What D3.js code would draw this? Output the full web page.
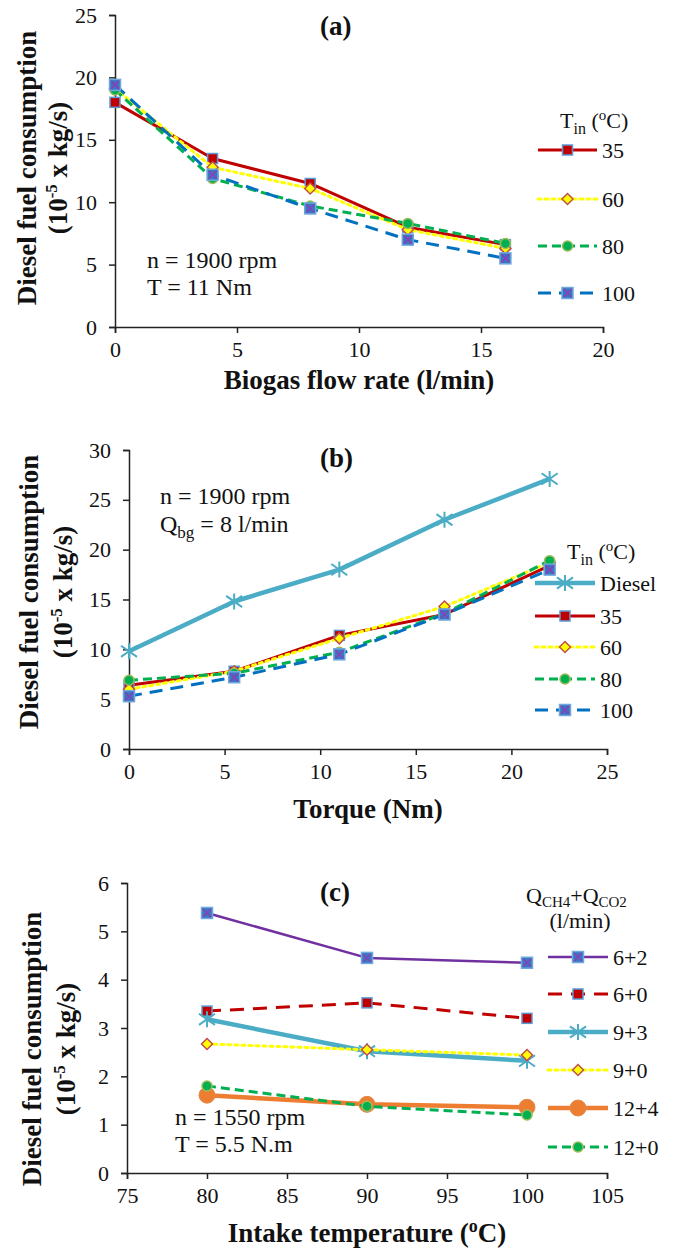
<!DOCTYPE html>
<html>
<head>
<meta charset="utf-8">
<style>
  body { margin: 0; background: #fff; }
  svg { display: block; }
  svg text { font-family: "Liberation Serif", "DejaVu Serif", serif; }
  .axis path, .axis line { stroke: #222; stroke-width: 1.5; }
  .axis text { font-size: 22px; fill: #111; font-family: "Liberation Serif", serif; }
  .title { font-size: 27px; font-weight: bold; fill: #111; }
  .note { font-size: 24px; fill: #111; }
  .leg { font-size: 22px; fill: #111; }
</style>
<script src="https://d3js.org/d3.v7.min.js"></script>
</head>
<body>
<svg id="chart" width="673" height="1250"></svg>
<script>

// ---- data ----
var flowRate = [0, 4, 8, 12, 16];
var aT35  = [18.0, 13.5, 11.5, 8.0, 6.6];
var aT60  = [19.1, 12.8, 11.1, 7.8, 6.3];
var aT80  = [19.0, 11.9, 9.7, 8.3, 6.7];
var aT100 = [19.4, 12.2, 9.5, 7.0, 5.5];

var torque = [0, 5.5, 11, 16.5, 22];
var bDiesel = [9.8, 14.8, 18.0, 23.0, 27.1];
var bT35  = [6.4, 7.8, 11.4, 13.5, 18.4];
var bT60  = [6.0, 7.8, 11.1, 14.3, 18.7];
var bT80  = [6.9, 7.6, 9.7, 13.6, 18.9];
var bT100 = [5.3, 7.2, 9.5, 13.5, 18.0];

var intakeTemp = [80, 90, 100];
var c6p2  = [5.38, 4.45, 4.35];
var c6p0  = [3.35, 3.52, 3.20];
var c9p3  = [3.18, 2.52, 2.32];
var c9p0  = [2.67, 2.55, 2.44];
var c12p4 = [1.61, 1.42, 1.36];
var c12p0 = [1.80, 1.38, 1.20];

var aXTicks = [0, 5, 10, 15, 20];
var aYTicks = [0, 5, 10, 15, 20, 25];
var bXTicks = [0, 5, 10, 15, 20, 25];
var bYTicks = [0, 5, 10, 15, 20, 25, 30];
var cXTicks = [75, 80, 85, 90, 95, 100, 105];
var cYTicks = [0, 1, 2, 3, 4, 5, 6];

var tempNames = ["35", "60", "80", "100"];
var flowNames = ["6+2", "6+0", "9+3", "9+0", "12+4", "12+0"];

// ---- line styles ----
var st = {
  red:    { color: "#c00000", width: 3, dash: null, marker: "sqRed" },
  yellow: { color: "#ffff00", width: 3, dash: "3,4", marker: "diamond" },
  green:  { color: "#00b050", width: 3, dash: "9,5", marker: "circGreen" },
  blue:   { color: "#0070c0", width: 3, dash: "13,8", marker: "sqBlueX" },
  teal:   { color: "#4bacc6", width: 4.5, dash: null, marker: "star" },
  purple: { color: "#7030a0", width: 2.5, dash: null, marker: "sqBlueX" },
  dred:   { color: "#c00000", width: 3, dash: "14,9", marker: "sqRed" },
  orange: { color: "#ed7d31", width: 4.5, dash: null, marker: "bigCirc" },
  green2: { color: "#00b050", width: 3, dash: "9,5", marker: "circGreen" }
};

var svg = d3.select("#chart");
svg.append("rect").attr("width", 673).attr("height", 1250).attr("fill", "#fff");

function drawMarker(g, type, x, y) {
  if (type === "sqRed") {
    g.append("rect").attr("x", x - 5).attr("y", y - 5).attr("width", 10).attr("height", 10)
      .attr("fill", "#c00000").attr("stroke", "#5b9bd5").attr("stroke-width", 1.5);
  } else if (type === "sqBlueX") {
    g.append("rect").attr("x", x - 5.5).attr("y", y - 5.5).attr("width", 11).attr("height", 11)
      .attr("fill", "#3a76c4").attr("stroke", "#6fa8dc").attr("stroke-width", 1.5);
    g.append("path").attr("d", "M" + (x - 4) + "," + (y - 4) + "L" + (x + 4) + "," + (y + 4) +
      "M" + (x - 4) + "," + (y + 4) + "L" + (x + 4) + "," + (y - 4))
      .attr("stroke", "#8a3fb5").attr("stroke-width", 1.5);
  } else if (type === "diamond") {
    g.append("path").attr("d", "M" + x + "," + (y - 5.5) + "L" + (x + 5.5) + "," + y + "L" + x + "," + (y + 5.5) + "L" + (x - 5.5) + "," + y + "Z")
      .attr("fill", "#ffff00").attr("stroke", "#c0504d").attr("stroke-width", 1.5);
  } else if (type === "circGreen") {
    g.append("circle").attr("cx", x).attr("cy", y).attr("r", 5)
      .attr("fill", "#00b050").attr("stroke", "#9bbb59").attr("stroke-width", 1.5);
  } else if (type === "star") {
    var r = 8;
    g.append("path").attr("d", "M" + (x - r) + "," + (y - r * 0.7) + "L" + (x + r) + "," + (y + r * 0.7) +
      "M" + (x - r) + "," + (y + r * 0.7) + "L" + (x + r) + "," + (y - r * 0.7) +
      "M" + x + "," + (y - r) + "L" + x + "," + (y + r))
      .attr("stroke", "#4bacc6").attr("stroke-width", 2).attr("fill", "none");
  } else if (type === "bigCirc") {
    g.append("circle").attr("cx", x).attr("cy", y).attr("r", 8)
      .attr("fill", "#ed7d31").attr("stroke", "#e08a4a").attr("stroke-width", 1);
  }
}

function drawPanel(p) {
  var x = d3.scaleLinear().domain(p.xDomain).range(p.xRange);
  var y = d3.scaleLinear().domain(p.yDomain).range(p.yRange);

  svg.append("g").attr("class", "axis")
    .attr("transform", "translate(0," + p.yRange[0] + ")")
    .call(d3.axisBottom(x).tickValues(p.xTicks).tickFormat(d3.format("d"))
      .tickSize(6).tickSizeOuter(6).tickPadding(8));
  svg.append("g").attr("class", "axis")
    .attr("transform", "translate(" + p.xRange[0] + ",0)")
    .call(d3.axisLeft(y).tickValues(p.yTicks).tickFormat(d3.format("d"))
      .tickSize(6).tickSizeOuter(6).tickPadding(12));

  var line = d3.line().x(function(d) { return x(d[0]); }).y(function(d) { return y(d[1]); });

  p.series.forEach(function(s) {
    var pts = p.xs.map(function(v, i) { return [v, s.values[i]]; });
    svg.append("path").datum(pts).attr("d", line)
      .attr("fill", "none").attr("stroke", s.style.color).attr("stroke-width", s.style.width)
      .attr("stroke-dasharray", s.style.dash).attr("stroke-linejoin", "round")
      .attr("stroke-linecap", s.style.dash === "3,4" ? "round" : "butt");
    var mg = svg.append("g");
    pts.forEach(function(d) { drawMarker(mg, s.style.marker, x(d[0]), y(d[1])); });
  });

  // legend
  p.series.forEach(function(s, i) {
    var ly = p.legY[i];
    svg.append("line").attr("x1", p.legX[0]).attr("x2", p.legX[1]).attr("y1", ly).attr("y2", ly)
      .attr("stroke", s.style.color).attr("stroke-width", s.style.width)
      .attr("stroke-dasharray", s.style.dash)
      .attr("stroke-linecap", s.style.dash === "3,4" ? "round" : "butt");
    drawMarker(svg.append("g"), s.style.marker, (p.legX[0] + p.legX[1]) / 2, ly);
    svg.append("text").attr("class", "leg").attr("x", p.legX[1] + 5).attr("y", ly).attr("dy", "0.35em").text(s.name);
  });

  // panel title
  svg.append("text").attr("class", "title").attr("x", 320).attr("y", p.tagY).text(p.tag);

  // x-axis title
  var xt = svg.append("text").attr("class", "title").attr("text-anchor", "middle")
    .attr("x", (p.xRange[0] + p.xRange[1]) / 2).attr("y", p.xTitleY);
  p.xTitle(xt);

  // y-axis title (two lines)
  var cy = p.yLabelY;
  svg.append("text").attr("class", "title").attr("text-anchor", "middle")
    .attr("transform", "translate(" + p.yLabelX[0] + "," + cy + ") rotate(-90)")
    .text("Diesel fuel consumption");
  var t2 = svg.append("text").attr("class", "title").attr("text-anchor", "middle")
    .attr("transform", "translate(" + p.yLabelX[1] + "," + cy + ") rotate(-90)");
  t2.append("tspan").text("(10");
  t2.append("tspan").attr("dy", -10).attr("font-size", "17px").text("-5");
  t2.append("tspan").attr("dy", 10).text(" x kg/s)");

  // notes
  p.notes.forEach(function(n, i) {
    var t = svg.append("text").attr("class", "note").attr("x", p.noteX).attr("y", p.noteY[i]);
    n(t);
  });
}

function tinTitle(x0, y0) {
  var t = svg.append("text").attr("class", "leg").attr("x", x0).attr("y", y0);
  t.append("tspan").text("T");
  t.append("tspan").attr("dy", 6).attr("font-size", "16px").text("in");
  t.append("tspan").attr("dy", -6).text(" (");
  t.append("tspan").attr("dy", -8).attr("font-size", "15px").text("o");
  t.append("tspan").attr("dy", 8).text("C)");
}

// ---- panel (a) ----
drawPanel({
  xDomain: [0, 20], xRange: [115, 603], yDomain: [0, 25], yRange: [327, 15],
  xTicks: aXTicks, yTicks: aYTicks, xs: flowRate,
  series: [
    { name: tempNames[0], values: aT35, style: st.red },
    { name: tempNames[1], values: aT60, style: st.yellow },
    { name: tempNames[2], values: aT80, style: st.green },
    { name: tempNames[3], values: aT100, style: st.blue }
  ],
  legX: [538, 597], legY: [150, 199, 246, 293],
  tag: "(a)", tagY: 35,
  xTitleY: 389, xTitle: function(t) { t.text("Biogas flow rate (l/min)"); },
  yLabelX: [36, 67], yLabelY: 168,
  noteX: 147, noteY: [268, 295],
  notes: [
    function(t) { t.text("n = 1900 rpm"); },
    function(t) { t.text("T = 11 Nm"); }
  ]
});
tinTitle(560, 128);

// ---- panel (b) ----
drawPanel({
  xDomain: [0, 25], xRange: [129, 607], yDomain: [0, 30], yRange: [749, 450],
  xTicks: bXTicks, yTicks: bYTicks, xs: torque,
  series: [
    { name: "Diesel", values: bDiesel, style: st.teal },
    { name: tempNames[0], values: bT35, style: st.red },
    { name: tempNames[1], values: bT60, style: st.yellow },
    { name: tempNames[2], values: bT80, style: st.green },
    { name: tempNames[3], values: bT100, style: st.blue }
  ],
  legX: [535, 595], legY: [583, 616, 647, 679, 710],
  tag: "(b)", tagY: 467,
  xTitleY: 818, xTitle: function(t) { t.text("Torque (Nm)"); },
  yLabelX: [38, 72], yLabelY: 592,
  noteX: 160, noteY: [504, 532],
  notes: [
    function(t) { t.text("n = 1900 rpm"); },
    function(t) {
      t.append("tspan").text("Q");
      t.append("tspan").attr("dy", 6).attr("font-size", "17px").text("bg");
      t.append("tspan").attr("dy", -6).text(" = 8 l/min");
    }
  ]
});
tinTitle(567, 559);

// ---- panel (c) ----
drawPanel({
  xDomain: [75, 105], xRange: [127, 607], yDomain: [0, 6], yRange: [1173, 883],
  xTicks: cXTicks, yTicks: cYTicks, xs: intakeTemp,
  series: [
    { name: flowNames[0], values: c6p2, style: st.purple },
    { name: flowNames[1], values: c6p0, style: st.dred },
    { name: flowNames[2], values: c9p3, style: st.teal },
    { name: flowNames[3], values: c9p0, style: st.yellow },
    { name: flowNames[4], values: c12p4, style: st.orange },
    { name: flowNames[5], values: c12p0, style: st.green2 }
  ],
  legX: [548, 608], legY: [957, 994, 1032, 1070, 1108, 1147],
  tag: "(c)", tagY: 901,
  xTitleY: 1242, xTitle: function(t) {
    t.append("tspan").text("Intake temperature (");
    t.append("tspan").attr("dy", -10).attr("font-size", "18px").text("o");
    t.append("tspan").attr("dy", 10).text("C)");
  },
  yLabelX: [41, 75], yLabelY: 1049,
  noteX: 175, noteY: [1125, 1152],
  notes: [
    function(t) { t.text("n = 1550 rpm"); },
    function(t) { t.text("T = 5.5 N.m"); }
  ]
});
(function() {
  var t = svg.append("text").attr("class", "leg").attr("x", 526).attr("y", 903);
  t.append("tspan").text("Q");
  t.append("tspan").attr("dy", 4).attr("font-size", "15px").text("CH4");
  t.append("tspan").attr("dy", -4).text("+Q");
  t.append("tspan").attr("dy", 4).attr("font-size", "15px").text("CO2");
  svg.append("text").attr("class", "leg").attr("x", 580).attr("y", 928)
    .attr("text-anchor", "middle").text("(l/min)");
})();

</script>
</body>
</html>
